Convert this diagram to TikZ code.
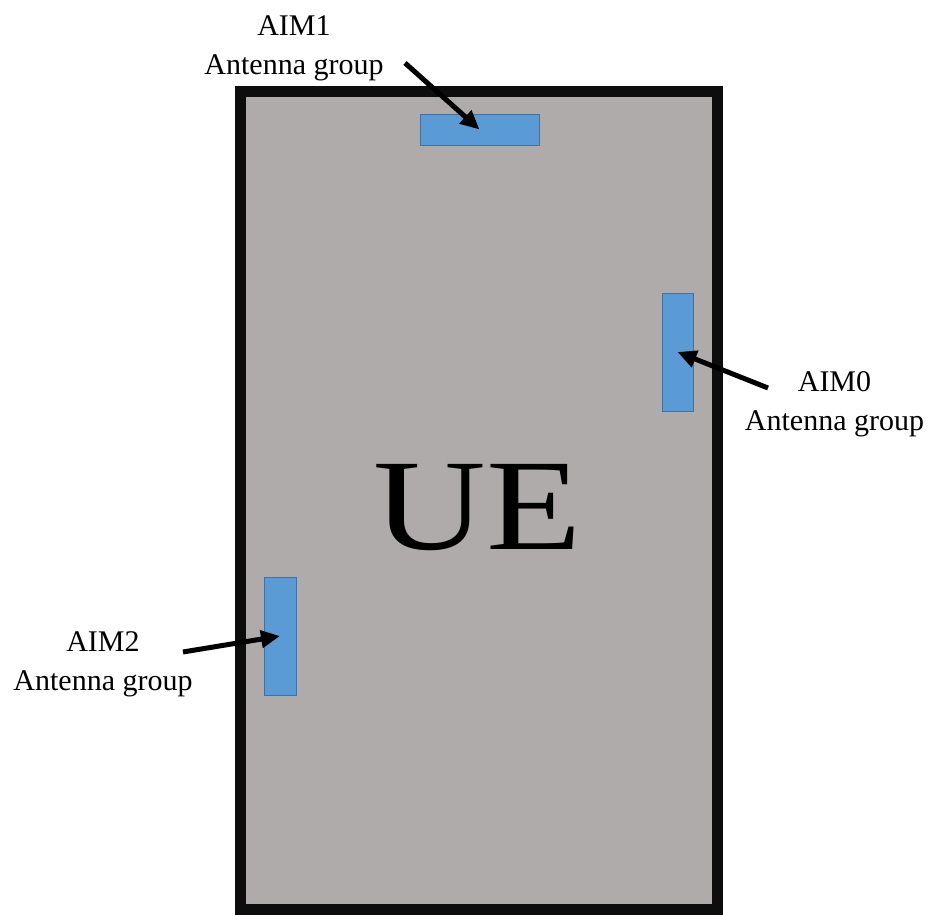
\documentclass[tikz,border=0pt]{standalone}
\usepackage{fontspec}
\setmainfont{Liberation Serif}
\usepackage{xcolor}
\usetikzlibrary{arrows.meta,positioning}
\definecolor{uegray}{HTML}{AFABAB}
\definecolor{ueframe}{HTML}{0D0D0D}
\definecolor{aimblue}{HTML}{5B9BD5}
\definecolor{aimedge}{HTML}{41719C}

\begin{document}
\begin{tikzpicture}[
  x=1pt,y=-1pt,
  body/.style={draw=ueframe,line width=11pt,fill=uegray,minimum width=477pt,minimum height=817.5pt,inner sep=0pt},
  aimbox/.style={draw=aimedge,line width=0.8pt,fill=aimblue,inner sep=0pt},
  tag/.style={align=center,inner sep=0pt,font=\fontsize{30}{39}\selectfont},
  leader/.style={-{Triangle[length=19pt,width=17pt]},draw=black,line width=5pt},
]
\useasboundingbox (0,0) rectangle (929,915);

% Handset body with its three antenna groups
\node[body] (ue) at (479,500.75) {};
\node[inner sep=0pt,font=\fontsize{130}{130}\selectfont] (uelabel) at (477.5,508) {\scalebox{1.2}[1]{UE}};

\node[aimbox,minimum width=119pt,minimum height=31pt] (aim1) at (479.5,129.5) {};
\node[aimbox,minimum width=31pt,minimum height=118pt] (aim0) at (677.5,352) {};
\node[aimbox,minimum width=32pt,minimum height=118pt] (aim2) at (280,636) {};

% Labels and leader arrows
\node[tag] (tag1) at (294,48.6) {AIM1\\Antenna group};
\node[tag] (tag0) at (834.5,404.6) {AIM0\\Antenna group};
\node[tag] (tag2) at (103,664) {AIM2\\Antenna group};

\coordinate (tail1) at (405,63);
\coordinate (tail0) at (768,388);
\coordinate (tail2) at (183,652);
\draw[leader] (tail1) -- (aim1.center);
\draw[leader] (tail0) -- (aim0.center);
\draw[leader] (tail2) -- (aim2.center);
\end{tikzpicture}
\end{document}
